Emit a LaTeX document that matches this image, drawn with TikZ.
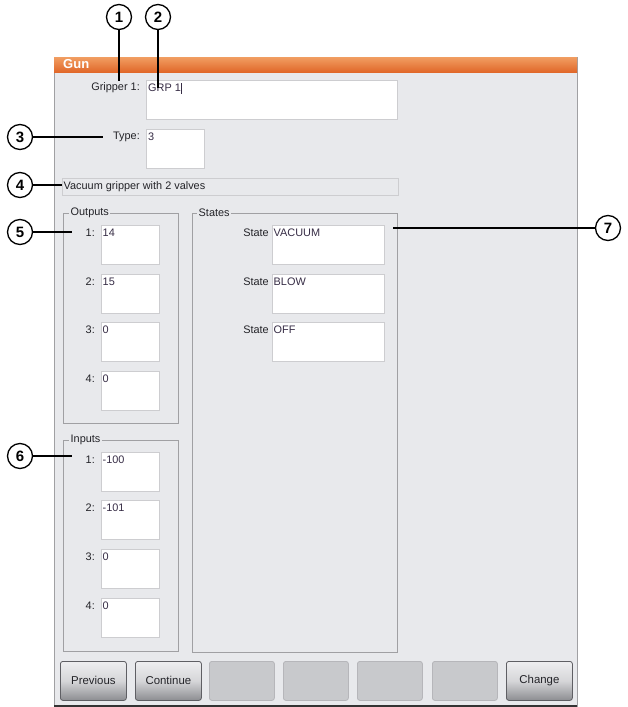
\documentclass[tikz,border=0pt]{standalone}
\usepackage{fontspec}
\setmainfont{Liberation Sans}
\usetikzlibrary{calc}
\definecolor{winbg}{RGB}{232,233,236}
\definecolor{titletop}{RGB}{241,158,98}
\definecolor{titlebot}{RGB}{225,104,42}
\definecolor{grpline}{RGB}{160,160,163}
\definecolor{boxdark}{RGB}{120,120,123}
\definecolor{boxlight}{RGB}{205,205,208}
\definecolor{txt}{RGB}{35,35,40}
\definecolor{valtxt}{RGB}{55,45,70}
\definecolor{btntop}{RGB}{238,238,240}
\definecolor{btnbot}{RGB}{140,141,145}
\definecolor{btnedge}{RGB}{95,95,100}
\definecolor{blankfill}{RGB}{200,201,204}
\definecolor{blankedge}{RGB}{182,182,186}
\tikzset{
  uifont/.style={font=\fontsize{10.9}{12}\selectfont},
  tbox/.style={fill=white, draw=boxlight, line width=0.8pt, inner sep=0pt, outer sep=0pt, anchor=north west,
    path picture={\draw[boxdark, line width=1.8pt] (path picture bounding box.south west) -- (path picture bounding box.north west) -- (path picture bounding box.north east);}},
  lbl/.style={uifont, text=txt, inner sep=0pt, anchor=east},
  val/.style={uifont, text=valtxt, inner sep=0pt, anchor=west},
  grp/.style={draw=grpline, line width=0.9pt, inner sep=0pt, outer sep=0pt, anchor=north west},
  grplbl/.style={uifont, text=txt, fill=winbg, inner sep=1.5pt, anchor=west},
  btn/.style={font=\fontsize{11.4}{12}\selectfont, text=txt, draw=btnedge, line width=0.8pt, rounded corners=2.5pt, top color=btntop, bottom color=btnbot, middle color=btntop!75!btnbot, minimum width=66pt, minimum height=39pt, inner sep=0pt, anchor=north west},
  blankbtn/.style={fill=blankfill, draw=blankedge, line width=0.8pt, rounded corners=2.5pt, minimum width=65pt, minimum height=39pt, inner sep=0pt, anchor=north west},
  callout/.style={circle, draw=black, line width=1.3pt, fill=white, minimum size=25pt, inner sep=0pt, font=\fontsize{15}{15}\bfseries},
  leader/.style={draw=black, line width=1.1pt}
}
\begin{document}
\begin{tikzpicture}[x=1pt,y=-1pt]
\useasboundingbox (0,0) rectangle (628,707);
\fill[white] (0,0) rectangle (628,707);
% window
\node[fill=winbg, draw=grpline, line width=0.9pt, minimum width=523pt, minimum height=649pt, inner sep=0pt, outer sep=0pt, anchor=north west] (win) at (54,57) {};
\draw[black!80, line width=1.2pt] (win.south west) -- (win.south east);
\shade[top color=titletop, bottom color=titlebot] (54,57) rectangle (577,72);
\node[font=\fontsize{13}{13}\bfseries, text=white, inner sep=0pt, anchor=west] (title) at (63,64.5) {Gun};
% gripper
\node[tbox, minimum width=251pt, minimum height=39pt] (grpbox) at (146,80) {};
\node[lbl] (grplab) at (140,88) {Gripper 1:};
\node[val] (grpval) at (148,88) {GRP 1\rule[-2pt]{0.9pt}{11pt}};
% type
\node[tbox, minimum width=58pt, minimum height=39pt] (typebox) at (146,129) {};
\node[lbl] (typelab) at (140,137) {Type:};
\node[val] (typeval) at (148,137) {3};
% description
\node[fill=winbg, draw=boxlight, line width=0.8pt, minimum width=336pt, minimum height=17pt, inner sep=0pt, outer sep=0pt, anchor=north west,
  path picture={\draw[grpline, line width=1.4pt] (path picture bounding box.south west) -- (path picture bounding box.north west) -- (path picture bounding box.north east);}] (descbox) at (62,178) {};
\node[val, text=txt] (descval) at (63.5,186.5) {Vacuum gripper with 2 valves};
% groups
\node[grp, minimum width=115pt, minimum height=210pt] (outgrp) at (63,213) {};
\node[grplbl] (outlab) at (69,213) {Outputs};
\node[grp, minimum width=115pt, minimum height=211pt] (ingrp) at (63,440) {};
\node[grplbl] (inlab) at (69,440) {Inputs};
\node[grp, minimum width=205pt, minimum height=439pt] (stgrp) at (192,213) {};
\node[grplbl] (stlab) at (197,213) {States};
% outputs
\node[tbox, minimum width=58pt, minimum height=39pt] (o1) at (101,225) {};
\node[tbox, minimum width=58pt, minimum height=39pt] (o2) at (101,274) {};
\node[tbox, minimum width=58pt, minimum height=39pt] (o3) at (101,322) {};
\node[tbox, minimum width=58pt, minimum height=39pt] (o4) at (101,371) {};
\node[lbl] (o1l) at (95,233) {1:};
\node[lbl] (o2l) at (95,282) {2:};
\node[lbl] (o3l) at (95,330) {3:};
\node[lbl] (o4l) at (95,379) {4:};
\node[val] (o1v) at (102.5,233) {14};
\node[val] (o2v) at (102.5,282) {15};
\node[val] (o3v) at (102.5,330) {0};
\node[val] (o4v) at (102.5,379) {0};
% inputs
\node[tbox, minimum width=58pt, minimum height=39pt] (i1) at (101,452) {};
\node[tbox, minimum width=58pt, minimum height=39pt] (i2) at (101,500) {};
\node[tbox, minimum width=58pt, minimum height=39pt] (i3) at (101,549) {};
\node[tbox, minimum width=58pt, minimum height=39pt] (i4) at (101,598) {};
\node[lbl] (i1l) at (95,460) {1:};
\node[lbl] (i2l) at (95,508) {2:};
\node[lbl] (i3l) at (95,557) {3:};
\node[lbl] (i4l) at (95,606) {4:};
\node[val] (i1v) at (102.5,460) {-100};
\node[val] (i2v) at (102.5,508) {-101};
\node[val] (i3v) at (102.5,557) {0};
\node[val] (i4v) at (102.5,606) {0};
% states
\node[tbox, minimum width=112pt, minimum height=39pt] (s1) at (272,225) {};
\node[tbox, minimum width=112pt, minimum height=39pt] (s2) at (272,274) {};
\node[tbox, minimum width=112pt, minimum height=39pt] (s3) at (272,322) {};
\node[lbl] (s1l) at (269,233) {State};
\node[lbl] (s2l) at (269,282) {State};
\node[lbl] (s3l) at (269,330) {State};
\node[val] (s1v) at (273.5,233) {VACUUM};
\node[val] (s2v) at (273.5,282) {BLOW};
\node[val] (s3v) at (273.5,330) {OFF};
% buttons
\node[btn] (bprev) at (60,661) {Previous};
\node[btn] (bcont) at (135,661) {Continue};
\node[blankbtn] (b3) at (209,661) {};
\node[blankbtn] (b4) at (283,661) {};
\node[blankbtn] (b5) at (357,661) {};
\node[blankbtn] (b6) at (432,661) {};
\node[btn] (bchg) at (506,661) {Change};
% callouts
\node[callout] (c1) at (119,17) {1};
\node[callout] (c2) at (158,17) {2};
\node[callout] (c3) at (20,137) {3};
\node[callout] (c4) at (20,185) {4};
\node[callout] (c5) at (20,232) {5};
\node[callout] (c6) at (20,456) {6};
\node[callout] (c7) at (608,228) {7};
\coordinate (e1) at (119,81);
\coordinate (e2) at (158,88);
\coordinate (e3) at (103,137);
\coordinate (e4) at (62,185);
\coordinate (e5) at (72,232);
\coordinate (e6) at (72,456);
\coordinate (e7) at (393,228);
\draw[leader] (c1) -- (e1);
\draw[leader] (c2) -- (e2);
\draw[leader] (c3) -- (e3);
\draw[leader] (c4) -- (e4);
\draw[leader] (c5) -- (e5);
\draw[leader] (c6) -- (e6);
\draw[leader] (c7) -- (e7);
\end{tikzpicture}
\end{document}
